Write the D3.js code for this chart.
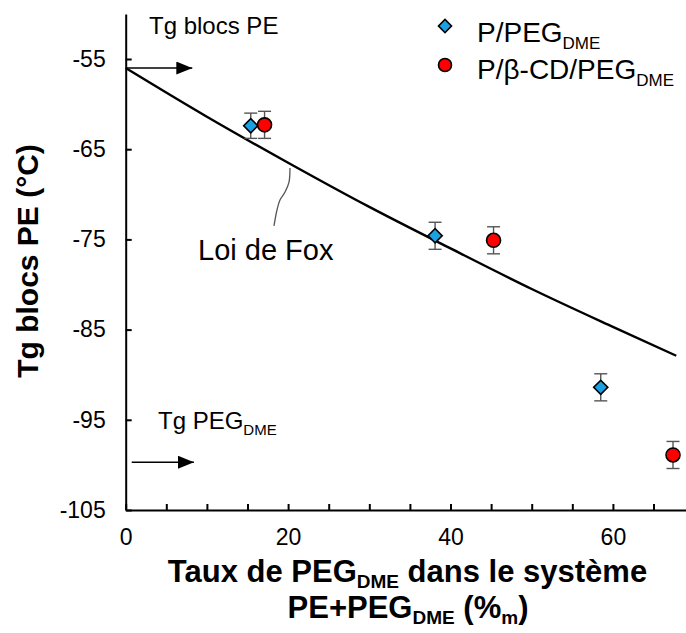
<!DOCTYPE html>
<html>
<head>
<meta charset="utf-8">
<script src="https://cdn.jsdelivr.net/npm/d3@7"></script>
<style>
  html, body { margin: 0; padding: 0; background: #fff; }
  svg { display: block; }
  text { font-family: "Liberation Sans", Arial, sans-serif; fill: #000; }
</style>
</head>
<body>
<svg id="chart" width="686" height="633"></svg>
<script>
// ---- data ----
const xTicks = [0, 5, 10, 15, 20, 25, 30, 35, 40, 45, 50, 55, 60, 65];
const xTickLabels = [0, 20, 40, 60];
const yTicks = [-105, -95, -85, -75, -65, -55];

const pegX = [15.4, 38.1, 58.5];
const pegY = [-62.4, -74.6, -91.4];
const pegErr = [1.4, 1.5, 1.5];

const cdX = [17.1, 45.3, 67.4];
const cdY = [-62.3, -75.1, -98.9];
const cdErr = [1.5, 1.5, 1.5];

// Fox law curve
const foxX = [0, 10, 20, 30, 40, 50, 60, 67.8];
const foxY = [-56.0, -61.4, -66.5, -71.4, -76.0, -80.5, -84.7, -87.9];

// reference levels shown by arrows
const tgPE = -56.0;
const tgPEG = -99.7;

// leader line from curve to "Loi de Fox" label (data units)
const leaderX = [20.23, 20.11, 19.62, 19.0, 18.63, 18.26];
const leaderY = [-67.08, -68.64, -69.75, -70.63, -71.74, -73.51];

// ---- scales ----
const svg = d3.select("#chart");
const x = d3.scaleLinear().domain([0, 69]).range([125.7, 686]);
const y = d3.scaleLinear().domain([-105, -50]).range([510, 13.9]);

// arrow marker
const defs = svg.append("defs");
defs.append("marker")
  .attr("id", "ah").attr("viewBox", "0 0 16 13")
  .attr("refX", 16).attr("refY", 6.5)
  .attr("markerWidth", 16).attr("markerHeight", 13)
  .attr("markerUnits", "userSpaceOnUse")
  .attr("orient", "auto")
  .append("path").attr("d", "M0,0 L16,6.5 L0,13 Z").attr("fill", "#000");

// ---- axes ----
const yAxis = d3.axisLeft(y).tickValues(yTicks).tickSizeInner(-6).tickSizeOuter(0).tickPadding(20)
  .tickFormat(d3.format("d"));
const gy = svg.append("g").attr("transform", `translate(${x(0)},0)`).call(yAxis);
gy.select(".domain").attr("stroke", "#000").attr("stroke-width", 2);
gy.selectAll(".tick line").attr("stroke", "#000").attr("stroke-width", 2);
gy.selectAll(".tick text").attr("font-size", 23).attr("font-family", "Liberation Sans, Arial, sans-serif")
  .text(d => d3.format("d")(d).replace("−", "-"));

const xAxis = d3.axisBottom(x).tickValues(xTicks).tickSizeInner(-6).tickSizeOuter(0).tickPadding(19)
  .tickFormat(d => xTickLabels.includes(d) ? d : "");
const gx = svg.append("g").attr("transform", `translate(0,${y(-105)})`).call(xAxis);
gx.select(".domain").attr("stroke", "#000").attr("stroke-width", 2);
gx.selectAll(".tick line").attr("stroke", "#000").attr("stroke-width", 2);
gx.selectAll(".tick text").attr("font-size", 23).attr("font-family", "Liberation Sans, Arial, sans-serif");

// ---- Fox curve ----
const foxData = foxX.map((v, i) => [v, foxY[i]]);
svg.append("path")
  .datum(foxData)
  .attr("fill", "none").attr("stroke", "#000").attr("stroke-width", 2.4)
  .attr("d", d3.line().x(d => x(d[0])).y(d => y(d[1])).curve(d3.curveMonotoneX));

// leader line
const leaderData = leaderX.map((v, i) => [v, leaderY[i]]);
svg.append("path")
  .datum(leaderData)
  .attr("fill", "none").attr("stroke", "#555").attr("stroke-width", 1.3)
  .attr("d", d3.line().x(d => x(d[0])).y(d => y(d[1])).curve(d3.curveCatmullRom));

// ---- arrows ----
svg.append("line")
  .attr("x1", x(0)).attr("x2", x(8.2)).attr("y1", y(tgPE)).attr("y2", y(tgPE))
  .attr("stroke", "#000").attr("stroke-width", 1.5).attr("marker-end", "url(#ah)");
svg.append("line")
  .attr("x1", x(0.74)).attr("x2", x(8.4)).attr("y1", y(tgPEG)).attr("y2", y(tgPEG))
  .attr("stroke", "#000").attr("stroke-width", 1.5).attr("marker-end", "url(#ah)");

// ---- error bars & markers ----
function drawSeries(xs, ys, errs, kind) {
  const data = xs.map((v, i) => ({ x: v, y: ys[i], e: errs[i] }));
  const g = svg.append("g");
  const eb = g.selectAll("g.eb").data(data).join("g").attr("class", "eb")
    .attr("stroke", "#555").attr("stroke-width", 1.4);
  eb.append("line").attr("x1", d => x(d.x)).attr("x2", d => x(d.x))
    .attr("y1", d => y(d.y + d.e)).attr("y2", d => y(d.y - d.e));
  eb.append("line").attr("x1", d => x(d.x) - 6.5).attr("x2", d => x(d.x) + 6.5)
    .attr("y1", d => y(d.y + d.e)).attr("y2", d => y(d.y + d.e));
  eb.append("line").attr("x1", d => x(d.x) - 6.5).attr("x2", d => x(d.x) + 6.5)
    .attr("y1", d => y(d.y - d.e)).attr("y2", d => y(d.y - d.e));
  if (kind === "diamond") {
    g.selectAll("path.m").data(data).join("path").attr("class", "m")
      .attr("d", d3.symbol(d3.symbolSquare, 100)())
      .attr("transform", d => `translate(${x(d.x)},${y(d.y)}) rotate(45)`)
      .attr("fill", "#1ba1e2").attr("stroke", "#000").attr("stroke-width", 1.6);
  } else {
    g.selectAll("circle.m").data(data).join("circle").attr("class", "m")
      .attr("cx", d => x(d.x)).attr("cy", d => y(d.y)).attr("r", 7)
      .attr("fill", "#ff0000").attr("stroke", "#000").attr("stroke-width", 1.6);
  }
}
drawSeries(pegX, pegY, pegErr, "diamond");
drawSeries(cdX, cdY, cdErr, "circle");

// ---- legend ----
svg.append("path").attr("d", d3.symbol(d3.symbolSquare, 85)())
  .attr("transform", "translate(445,26) rotate(45)")
  .attr("fill", "#1ba1e2").attr("stroke", "#000").attr("stroke-width", 1.6);
svg.append("circle").attr("cx", 445).attr("cy", 65).attr("r", 6.5)
  .attr("fill", "#ff0000").attr("stroke", "#000").attr("stroke-width", 1.6);

function subText(parent, xPos, yPos, parts, size, subSize, weight, anchor, family, shiftK) {
  const k = shiftK || 0.42;
  const t = parent.append("text").attr("x", xPos).attr("y", yPos)
    .attr("font-size", size).attr("font-weight", weight || "normal")
    .attr("text-anchor", anchor || "start");
  if (family) t.attr("font-family", family);
  let shifted = false;
  parts.forEach(p => {
    const ts = t.append("tspan").text(p.t);
    if (p.sub) {
      ts.attr("font-size", subSize).attr("dy", shifted ? 0 : subSize * k);
      shifted = true;
    } else {
      if (shifted) { ts.attr("dy", -subSize * k); shifted = false; }
    }
  });
  return t;
}

subText(svg, 477, 42, [{ t: "P/PEG" }, { t: "DME", sub: true }], 28, 17);
subText(svg, 477, 78.5, [{ t: "P/β-CD/PEG" }, { t: "DME", sub: true }], 28, 17);

// ---- annotations ----
svg.append("text").attr("x", 149).attr("y", 33.5).attr("font-size", 24)
  .attr("font-family", "'Open Sans', 'Noto Sans', sans-serif").text("Tg blocs PE");
subText(svg, 158, 428.5, [{ t: "Tg PEG" }, { t: "DME", sub: true }], 24, 15, "normal", "start",
  "'Open Sans', 'Noto Sans', sans-serif");

svg.append("text").attr("x", 198).attr("y", 260).attr("font-size", 29).text("Loi de Fox");

// ---- axis titles ----
subText(svg, 407.5, 582, [{ t: "Taux de PEG" }, { t: "DME", sub: true }, { t: " dans le système" }],
  31, 19, "bold", "middle", null, 0.3);
subText(svg, 408, 618, [{ t: "PE+PEG" }, { t: "DME", sub: true }, { t: " (%" }, { t: "m", sub: true }, { t: ")" }],
  31, 19, "bold", "middle", null, 0.3);

svg.append("text")
  .attr("transform", "translate(37.5,261) rotate(-90)")
  .attr("text-anchor", "middle").attr("font-size", 30).attr("font-weight", "bold")
  .text("Tg blocs PE (°C)");
</script>
</body>
</html>
